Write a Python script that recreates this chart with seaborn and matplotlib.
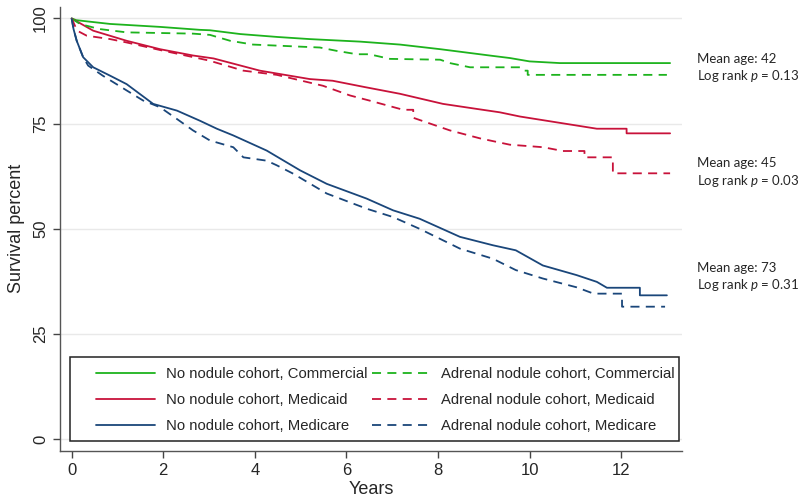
import pandas as pd
import seaborn as sns
import matplotlib.pyplot as plt
from matplotlib.patches import Rectangle

# survival curves (years, survival percent)
comm_none_t = [0, 0.1, 0.84, 1.93, 2.8, 3.02, 3.68, 4.5, 5.2, 6.3, 7.17, 8.05, 9.2, 9.57, 10.0, 10.66, 13.07]
comm_none_s = [100, 99.6, 98.7, 98.0, 97.3, 97.2, 96.3, 95.6, 95.1, 94.5, 93.8, 92.7, 91.1, 90.6, 89.8, 89.4, 89.4]

comm_nod_t = [0, 0.18, 0.6, 1.2, 2.65, 3.02, 3.46, 3.96, 5.42, 5.79, 6.23, 6.5, 6.95, 8.05, 8.26, 8.7, 9.79, 9.86, 9.96, 9.96, 13.0]
comm_nod_s = [100, 98.7, 97.5, 96.7, 96.4, 96.1, 94.7, 93.8, 93.1, 92.3, 91.5, 91.5, 90.4, 90.2, 89.4, 88.4, 88.4, 87.6, 87.6, 86.6, 86.6]

caid_none_t = [0, 0.47, 1.2, 1.93, 2.65, 3.1, 4.11, 5.2, 5.7, 6.4, 7.17, 8.11, 8.85, 9.35, 9.79, 10.6, 11.47, 12.12, 12.12, 13.07]
caid_none_s = [100, 97.1, 94.7, 92.7, 91.2, 90.5, 87.6, 85.6, 85.2, 83.7, 82.1, 79.7, 78.5, 77.7, 76.7, 75.3, 73.8, 73.8, 72.7, 72.7]

caid_nod_t = [0, 0.12, 0.33, 0.84, 1.2, 1.93, 3.0, 3.75, 4.48, 4.91, 5.49, 6.08, 6.5, 7.24, 7.46, 7.46, 8.26, 8.92, 9.57,
              10.3, 10.73, 11.2, 11.2, 11.82, 11.82, 13.07]
caid_nod_s = [100, 97.1, 95.9, 95.1, 94.3, 92.5, 90.0, 87.6, 86.6, 85.5, 84.0, 81.7, 80.5, 78.3, 78.3, 76.4, 73.4, 71.5, 70.0,
              69.4, 68.5, 68.5, 67.0, 67.0, 63.2, 63.2]

care_none_t = [0, 0.04, 0.11, 0.25, 0.47, 0.84, 1.2, 1.78, 2.3, 2.8, 3.17, 3.53, 4.26, 4.99, 5.57, 6.44, 7.02, 7.6, 8.48, 9.2,
               9.7, 10.29, 11.03, 11.47, 11.69, 12.41, 12.41, 13.0]
care_none_s = [100, 97.5, 94.7, 90.8, 88.4, 86.4, 84.4, 79.7, 78.1, 75.7, 73.8, 72.2, 68.6, 63.9, 60.7, 57.2, 54.4, 52.4, 48.1, 46.1,
               44.9, 41.3, 39.0, 37.4, 36.0, 36.0, 34.2, 34.2]

care_nod_t = [0, 0.04, 0.11, 0.25, 0.36, 0.68, 1.2, 1.56, 1.93, 2.3, 2.65, 3.02, 3.53, 3.75, 4.26, 4.48, 4.84, 5.57, 6.44, 7.02,
              7.6, 8.48, 9.2, 9.7, 10.29, 11.03, 11.4, 12.02, 12.02, 12.96]
care_nod_s = [100, 97.5, 94.7, 90.8, 88.8, 86.4, 82.9, 80.5, 78.9, 76.1, 73.4, 71.0, 69.4, 67.0, 66.2, 65.1, 63.1, 58.4, 54.8, 52.8,
              50.0, 45.3, 42.9, 40.2, 38.2, 36.1, 34.6, 34.6, 31.5, 31.5]

labels = ['No nodule cohort, Commercial', 'No nodule cohort, Medicaid', 'No nodule cohort, Medicare',
          'Adrenal nodule cohort, Commercial', 'Adrenal nodule cohort, Medicaid', 'Adrenal nodule cohort, Medicare']
notes = [('Mean age: 42', '0.13'), ('Mean age: 45', '0.03'), ('Mean age: 73', '0.31')]

green = '#1db31d'
red = '#c8123a'
blue = '#1a467a'

sns.set_style('white')
plt.rcParams['font.family'] = ['Liberation Sans', 'DejaVu Sans']
plt.rcParams['mathtext.fontset'] = 'custom'
plt.rcParams['mathtext.it'] = 'Lato:italic'
plt.rcParams['mathtext.rm'] = 'Lato'

fig = plt.figure(figsize=(8, 5), dpi=100)
ax = fig.add_axes([0.075, 0.098, 0.7775, 0.8886])

dash = (0, (5, 3.5))
curves = [
    (comm_none_t, comm_none_s, green, '-'),
    (caid_none_t, caid_none_s, red, '-'),
    (care_none_t, care_none_s, blue, '-'),
    (comm_nod_t, comm_nod_s, green, dash),
    (caid_nod_t, caid_nod_s, red, dash),
    (care_nod_t, care_nod_s, blue, dash),
]
for (t, s, c, ls), lab in zip(curves, labels):
    df = pd.DataFrame({'Years': t, 'Survival': s})
    sns.lineplot(data=df, x='Years', y='Survival', ax=ax, color=c, linestyle=ls,
                 linewidth=1.3, estimator=None, sort=False, label=lab)

ax.set_xlim(-0.255, 13.33)
ax.set_ylim(-2.8, 102.8)
ax.set_xticks(range(0, 13, 2))
ax.set_yticks([0, 25, 50, 75, 100])
ax.yaxis.grid(True, color='#e9e9e9', linewidth=1)
ax.tick_params(axis='both', labelsize=12, length=5, width=1, color='#444', direction='out',
               left=True, bottom=True)
plt.setp(ax.get_yticklabels(), rotation=90, va='center')
for side in ['top', 'right']:
    ax.spines[side].set_visible(False)
for side in ['left', 'bottom']:
    ax.spines[side].set_color('#555')
    ax.spines[side].set_linewidth(1)
ax.set_xlabel('Years', fontsize=13, labelpad=2)
ax.set_ylabel('Survival percent', fontsize=13, labelpad=6)

# legend box drawn separately so that the padding matches
ax.add_patch(Rectangle((0.0161, 0.0225), 0.979, 0.189, transform=ax.transAxes, fill=True,
                       facecolor='white', edgecolor='#222', linewidth=1.1, zorder=4))
leg = ax.legend(ncol=2, loc='upper left', bbox_to_anchor=(0.0574, 0.188), borderaxespad=0,
                fontsize=10.7, handlelength=4.0, handletextpad=0.7, labelspacing=0.8,
                columnspacing=0.3, borderpad=0, frameon=False)
leg.set_zorder(5)

ypos = [(58.7, 76.3), (163.3, 181), (267.7, 285)]
for (age, p), (y1, y2) in zip(notes, ypos):
    fig.text(697 / 800, 1 - y1 / 500, age, fontsize=9.5, family='Lato', va='center', ha='left')
    fig.text(697 / 800, 1 - y2 / 500, 'Log rank $p$ = ' + p, fontsize=9.5, family='Lato', va='center', ha='left')

plt.savefig('out.png', dpi=100)
